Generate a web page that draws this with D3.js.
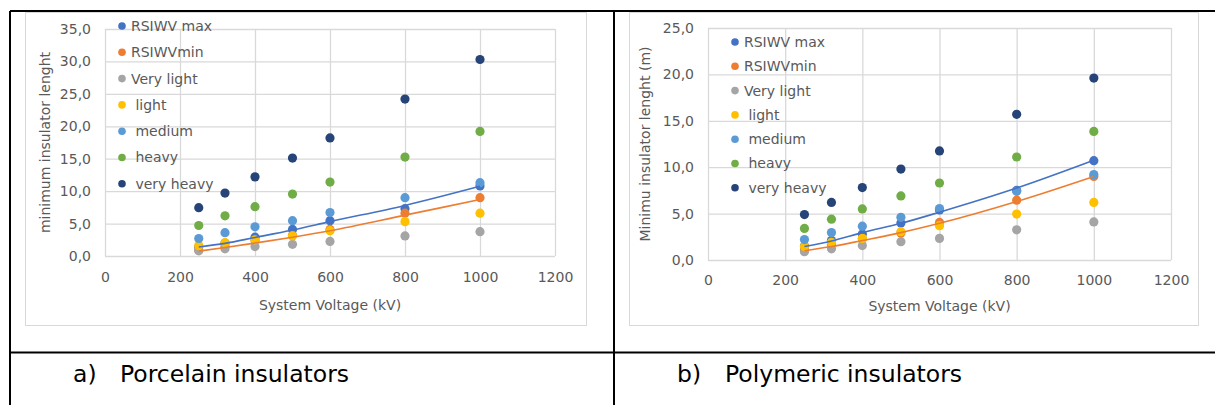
<!DOCTYPE html>
<html>
<head>
<meta charset="utf-8">
<script src="https://cdn.jsdelivr.net/npm/d3@7"></script>
<style>
  body { margin: 0; background: #fff; }
  svg text { font-family: "DejaVu Sans", sans-serif; white-space: pre; }
</style>
</head>
<body>
<svg id="canvas" width="1215" height="405"></svg>
<script>
// system voltages (kV) shared by both charts
var voltages = [250, 320, 400, 500, 600, 800, 1000];
var xTicks = [0, 200, 400, 600, 800, 1000, 1200];
var seriesNames = ["RSIWV max", "RSIWVmin", "Very light", " light", " medium", " heavy", " very heavy"];
var seriesColors = ["#4472C4", "#ED7D31", "#A5A5A5", "#FFC000", "#5B9BD5", "#70AD47", "#264478"];

// a) porcelain insulators
var porcRsiwvMax = [1.4, 2.0, 2.9, 4.1, 5.45, 7.3, 10.8];
var porcRsiwvMin = [0.9, 1.5, 2.4, 3.2, 4.1, 6.6, 9.0];
var porcVeryLight = [0.8, 1.1, 1.45, 1.8, 2.25, 3.1, 3.75];
var porcLight = [1.6, 2.05, 2.5, 3.1, 3.9, 5.3, 6.6];
var porcMedium = [2.7, 3.6, 4.5, 5.45, 6.7, 9.0, 11.3];
var porcHeavy = [4.7, 6.2, 7.6, 9.55, 11.4, 15.25, 19.2];
var porcVeryHeavy = [7.45, 9.7, 12.2, 15.1, 18.2, 24.2, 30.3];
var porcTrendMax = [1.4, 1.95, 2.85, 4.0, 5.3, 7.8, 10.75];
var porcTrendMin = [0.75, 1.3, 2.0, 2.9, 3.9, 6.3, 8.7];
var porcYTicks = [0, 5, 10, 15, 20, 25, 30, 35];

// b) polymeric insulators
var polyRsiwvMax = [1.5, 2.1, 2.8, 4.0, 5.4, 7.5, 10.7];
var polyRsiwvMin = [1.1, 1.7, 2.3, 2.9, 4.05, 6.45, 9.0];
var polyVeryLight = [0.9, 1.2, 1.55, 1.97, 2.33, 3.25, 4.1];
var polyLight = [1.45, 1.9, 2.33, 3.05, 3.7, 4.95, 6.2];
var polyMedium = [2.2, 2.95, 3.65, 4.6, 5.55, 7.4, 9.2];
var polyHeavy = [3.4, 4.4, 5.5, 6.9, 8.3, 11.1, 13.85];
var polyVeryHeavy = [4.9, 6.2, 7.8, 9.8, 11.75, 15.7, 19.6];
var polyTrendMax = [1.45, 2.05, 2.95, 3.95, 5.15, 7.75, 10.75];
var polyTrendMin = [1.0, 1.45, 2.1, 2.95, 3.95, 6.3, 9.0];
var polyYTicks = [0, 5, 10, 15, 20, 25];

var canvas = d3.select("#canvas");
var textColor = "#595959";
var gridColor = "#d9d9d9";
var fontSize = "14px";

function drawChart(cfg) {
  var g = canvas.append("g");

  // chart frame
  g.append("rect")
    .attr("x", cfg.frame[0] + 0.5).attr("y", cfg.frame[1] + 0.5)
    .attr("width", cfg.frame[2]).attr("height", cfg.frame[3])
    .attr("fill", "#fff").attr("stroke", gridColor);

  var x = d3.scaleLinear().domain([0, 1200]).range([cfg.left, cfg.right]);
  var y = d3.scaleLinear().domain([0, cfg.yMax]).range([cfg.bottom, cfg.top]);

  var yAxis = g.append("g")
    .attr("transform", "translate(" + cfg.left + ",0)")
    .call(d3.axisLeft(y).tickValues(cfg.yTicks)
      .tickSize(-(cfg.right - cfg.left)).tickPadding(14)
      .tickFormat(function (d) { return d.toFixed(1).replace(".", ","); }));
  var xAxis = g.append("g")
    .attr("transform", "translate(0," + cfg.bottom + ")")
    .call(d3.axisBottom(x).tickValues(xTicks)
      .tickSize(-(cfg.bottom - cfg.top)).tickPadding(cfg.xPad)
      .tickFormat(d3.format("d")));
  [yAxis, xAxis].forEach(function (a) {
    a.select(".domain").remove();
    a.selectAll("line").attr("stroke", gridColor).attr("stroke-width", 1.3);
    a.selectAll("text").attr("fill", textColor).attr("font-size", fontSize)
      .attr("font-family", "DejaVu Sans");
  });

  // markers, in series order
  cfg.series.forEach(function (vals, i) {
    g.append("g").selectAll("circle")
      .data(vals)
      .enter().append("circle")
      .attr("cx", function (d, j) { return x(voltages[j]); })
      .attr("cy", function (d) { return y(d); })
      .attr("r", 4.6)
      .attr("fill", seriesColors[i]);
  });

  // trendlines for RSIWV max / min
  var line = d3.line()
    .x(function (d, j) { return x(voltages[j]); })
    .y(function (d) { return y(d); })
    .curve(d3.curveMonotoneX);
  [cfg.trendMax, cfg.trendMin].forEach(function (vals, i) {
    g.append("path")
      .attr("d", line(vals))
      .attr("fill", "none")
      .attr("stroke", seriesColors[i])
      .attr("stroke-width", 1.6);
  });

  // legend
  seriesNames.forEach(function (name, i) {
    var ly = cfg.legendY + i * cfg.legendDy;
    g.append("circle")
      .attr("cx", cfg.legendX).attr("cy", ly).attr("r", 3.8)
      .attr("fill", seriesColors[i]);
    g.append("text")
      .attr("x", cfg.legendX + 9).attr("y", ly)
      .attr("dy", "0.35em")
      .attr("fill", textColor).attr("font-size", fontSize)
      .text(name);
  });

  // axis titles
  g.append("text")
    .attr("x", (cfg.left + cfg.right) / 2).attr("y", cfg.xTitleY)
    .attr("text-anchor", "middle").attr("dy", "0.35em")
    .attr("fill", textColor).attr("font-size", fontSize)
    .text("System Voltage (kV)");
  g.append("text")
    .attr("transform", "translate(" + cfg.yTitleX + "," + (cfg.top + cfg.bottom) / 2 + ") rotate(-90)")
    .attr("text-anchor", "middle").attr("dy", "0.35em")
    .attr("fill", textColor).attr("font-size", fontSize)
    .text(cfg.yTitle);
}

drawChart({
  frame: [25, 12, 561, 313],
  left: 105, right: 555, top: 29, bottom: 256,
  yMax: 35, yTicks: porcYTicks, xPad: 16.5,
  series: [porcRsiwvMax, porcRsiwvMin, porcVeryLight, porcLight, porcMedium, porcHeavy, porcVeryHeavy],
  trendMax: porcTrendMax, trendMin: porcTrendMin,
  legendX: 122, legendY: 26, legendDy: 26.3,
  xTitleY: 305, yTitleX: 45,
  yTitle: "minimum insulator lenght"
});

drawChart({
  frame: [629, 12, 569, 313],
  left: 708, right: 1171, top: 28, bottom: 260,
  yMax: 25, yTicks: polyYTicks, xPad: 15,
  series: [polyRsiwvMax, polyRsiwvMin, polyVeryLight, polyLight, polyMedium, polyHeavy, polyVeryHeavy],
  trendMax: polyTrendMax, trendMin: polyTrendMin,
  legendX: 735, legendY: 42, legendDy: 24.3,
  xTitleY: 306, yTitleX: 645,
  yTitle: "Minimu insulator lenght (m)"
});

// table borders
var borders = [
  [10, 11, 1215, 11],
  [10, 11, 10, 405],
  [614, 11, 614, 405],
  [10, 352.5, 1215, 352.5]
];
canvas.selectAll("line.border")
  .data(borders)
  .enter().append("line")
  .attr("class", "border")
  .attr("x1", function (d) { return d[0]; }).attr("y1", function (d) { return d[1]; })
  .attr("x2", function (d) { return d[2]; }).attr("y2", function (d) { return d[3]; })
  .attr("stroke", "#000").attr("stroke-width", 2);

// captions
var captions = [["a)", 73, "Porcelain insulators", 120], ["b)", 677, "Polymeric insulators", 725]];
captions.forEach(function (c) {
  canvas.append("text").attr("x", c[1]).attr("y", 382)
    .attr("font-size", "23.5px").attr("fill", "#000").text(c[0]);
  canvas.append("text").attr("x", c[3]).attr("y", 382)
    .attr("font-size", "23.5px").attr("fill", "#000").text(c[2]);
});
</script>
</body>
</html>
